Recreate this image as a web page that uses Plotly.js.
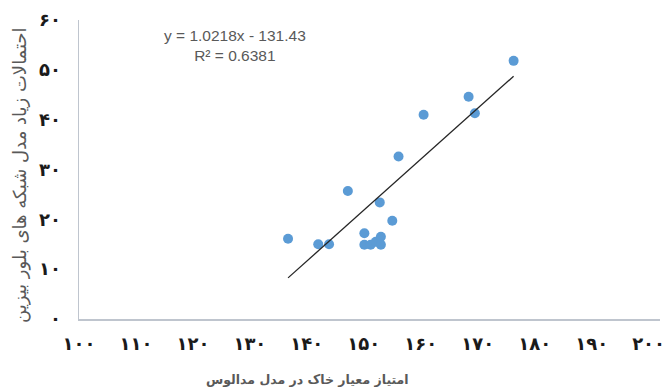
<!DOCTYPE html>
<html>
<head>
<meta charset="utf-8">
<script src="https://cdn.plot.ly/plotly-3.0.1.min.js"></script>
<style>html,body{margin:0;padding:0;background:#fff;}#chart{width:665px;height:389px;}</style>
</head>
<body>
<div id="chart"></div>
<script>
// Data
const soilScore = [136.7, 142.0, 143.9, 147.2, 150.1, 150.1, 151.2, 152.1, 153.0, 153.0, 152.8, 155.0, 156.1, 160.5, 168.4, 169.5, 176.3];
const bayesProb = [16.1, 15.0, 15.0, 25.7, 17.2, 14.9, 14.9, 15.5, 16.5, 14.9, 23.4, 19.7, 32.6, 41.0, 44.6, 41.3, 51.8];

// Trendline from the equation shown on the chart
const trendSlope = 1.0218;
const trendIntercept = -131.43;
const trendLabel = "y = 1.0218x - 131.43<br>R² = 0.6381";

// Tick labels (Persian digits)
const xTickVals = [100, 110, 120, 130, 140, 150, 160, 170, 180, 190, 200];
const xTickText = ["۱۰۰", "۱۱۰", "۱۲۰", "۱۳۰", "۱۴۰", "۱۵۰", "۱۶۰", "۱۷۰", "۱۸۰", "۱۹۰", "۲۰۰"];
const yTickVals = [0, 10, 20, 30, 40, 50, 60];
const yTickText = ["۰", "۱۰", "۲۰", "۳۰", "۴۰", "۵۰", "۶۰"];

const xTitle = "امتیاز معیار خاک در مدل مدالوس";
const yTitle = "احتمالات زیاد مدل شبکه های بلور بیزین";

const xMin = Math.min(...soilScore), xMax = Math.max(...soilScore);
const trendX = [xMin, xMax];
const trendY = trendX.map(v => trendSlope * v + trendIntercept);

const traces = [
  {
    x: soilScore, y: bayesProb, type: "scatter", mode: "markers",
    marker: {color: "#5B9BD5", size: 10},
    hoverinfo: "x+y", showlegend: false
  },
  {
    x: trendX, y: trendY, type: "scatter", mode: "lines",
    line: {color: "#262626", width: 1.3},
    hoverinfo: "skip", showlegend: false
  }
];

const tickFont = {family: "DejaVu Sans", size: 18, color: "#1a1a1a", weight: "bold"};

const layout = {
  width: 665, height: 389,
  margin: {l: 79, r: 5, t: 20, b: 70},
  paper_bgcolor: "#ffffff", plot_bgcolor: "#ffffff",
  showlegend: false,
  xaxis: {
    range: [100, 202], tickvals: xTickVals, ticktext: xTickText,
    showgrid: false, zeroline: false, showline: true, linecolor: "#BFC5CE", linewidth: 1.5,
    ticks: "", tickfont: tickFont, ticklabelstandoff: 8, ticklabeloverflow: "allow",
    fixedrange: true
  },
  yaxis: {
    range: [0, 60], tickvals: yTickVals, ticktext: yTickText,
    showgrid: false, zeroline: false, showline: true, linecolor: "#BFC5CE", linewidth: 1.5,
    ticks: "", tickfont: tickFont, ticklabelstandoff: 13, ticklabeloverflow: "allow",
    fixedrange: true
  },
  annotations: [
    {
      text: trendLabel, xref: "paper", yref: "paper", x: (235 - 79) / 581, y: (319 - 45) / 299,
      xanchor: "center", yanchor: "middle", showarrow: false, align: "center",
      font: {family: "Liberation Sans", size: 15.5, color: "#595959"}
    },
    {
      text: "<b>" + xTitle + "</b>", xref: "paper", yref: "paper",
      x: (307 - 79) / 581, y: -(379 - 319) / 299,
      xanchor: "center", yanchor: "middle", showarrow: false,
      font: {family: "DejaVu Sans", size: 12.5, color: "#595959"}
    },
    {
      text: yTitle, xref: "paper", yref: "paper",
      x: (20 - 79) / 581, y: (319 - 175) / 299, textangle: -90,
      xanchor: "center", yanchor: "middle", showarrow: false,
      font: {family: "DejaVu Sans", size: 18, color: "#595959"}
    }
  ]
};

Plotly.newPlot("chart", traces, layout, {displayModeBar: false, staticPlot: true});
</script>
</body>
</html>
